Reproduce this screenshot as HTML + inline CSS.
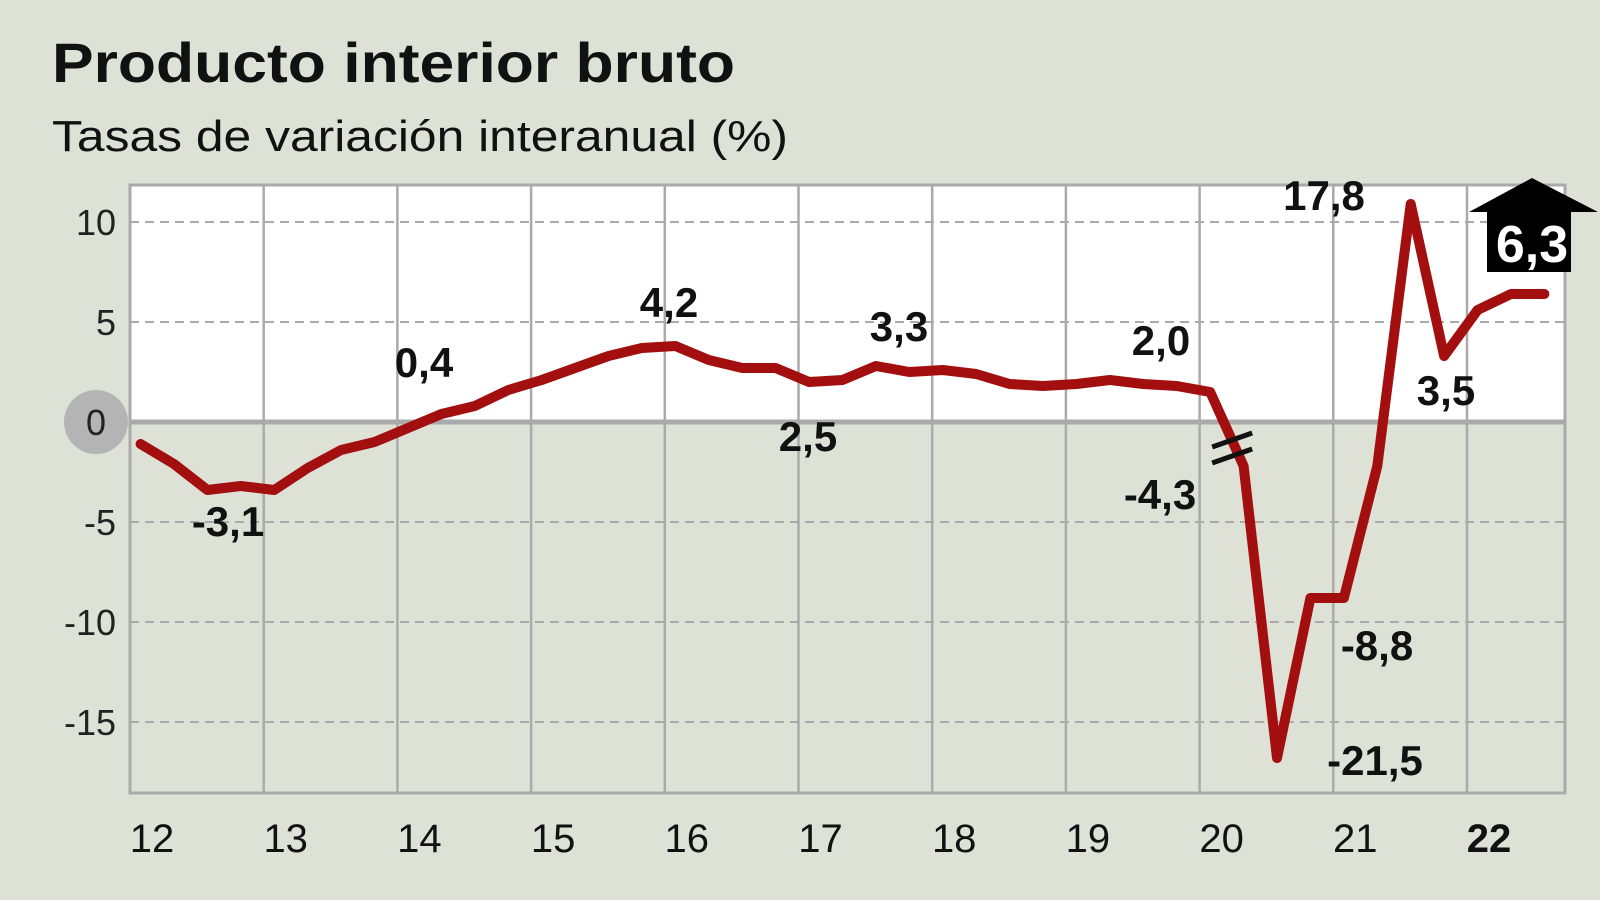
<!DOCTYPE html>
<html><head><meta charset="utf-8"><style>
html,body{margin:0;padding:0;background:#dde1d6;}
svg{display:block;font-family:"Liberation Sans",sans-serif;}
</style></head><body>
<svg id="chart" width="1600" height="900">
<rect width="1600" height="900" fill="#dde1d6"/>
<text x="52" y="82" font-size="56" font-weight="bold" fill="#111" textLength="683" lengthAdjust="spacingAndGlyphs">Producto interior bruto</text>
<text x="52" y="151" font-size="44" fill="#111" textLength="736" lengthAdjust="spacingAndGlyphs">Tasas de variación interanual (%)</text>
<g id="grid"></g>
<g id="marks"></g>
</svg>
<script>
const years = ["12","13","14","15","16","17","18","19","20","21","22"];
const yTicks = [10,5,0,-5,-10,-15];
const values = [-1.1,-2.1,-3.4,-3.2,-3.4,-2.3,-1.4,-1.0,-0.3,0.4,0.8,1.6,2.1,2.7,3.3,3.7,3.8,3.1,2.7,2.7,2.0,2.1,2.8,2.5,2.6,2.4,1.9,1.8,1.9,2.1,1.9,1.8,1.5,-2.2,-16.8,-8.8,-8.8,-2.2,10.9,3.3,5.6,6.4,6.4];
const labels = ["-3,1","0,4","4,2","2,5","3,3","2,0","-4,3","-21,5","-8,8","17,8","3,5"];
const labelPos = [[228,536],[424,377],[669,317],[808,451],[899,341],[1161,355],[1160,509],[1375,775],[1377,660],[1324,210],[1446,405]];

const NS="http://www.w3.org/2000/svg";
const L=130,R=1565,T=185,B=793;
const yearW=133.7, qW=yearW/4;
const x=i=>L+44+qW*(i-1);
const y=v=>422-20*v;
const xYear=k=>L+yearW*k;
function mk(tag,attrs,parent){const e=document.createElementNS(NS,tag);for(const k in attrs)e.setAttribute(k,attrs[k]);parent.appendChild(e);return e;}
const grid=document.getElementById('grid'), marks=document.getElementById('marks');

let r=mk('rect',{x:L,y:T,width:R-L,height:y(0)-T,fill:'#fff'},grid);


r=mk('rect',{x:L,y:T,width:R-L,height:B-T,fill:'none',stroke:'#aaa','stroke-width':3},grid);


years.forEach((yr,k)=>{
  if(k>0){const ln=mk('line',{x1:xYear(k),x2:xYear(k),y1:T,y2:B,stroke:'#aaa','stroke-width':2.5},grid);
  
  }
  const t=mk('text',{x:xYear(k)+22,y:852,'font-size':40,'text-anchor':'middle',fill:'#111','font-weight':yr==='22'?'bold':'normal'},grid);
  t.textContent=yr;
  
  
});
let zc=mk('circle',{cx:96,cy:y(0),r:32,fill:'#b4b4b4'},grid);


yTicks.forEach(v=>{
  if(v!==0){const ln=mk('line',{x1:L,x2:R,y1:y(v),y2:y(v),stroke:'#aaa','stroke-width':2,'stroke-dasharray':'9 6'},grid);
  
  }
  const t=mk('text',{x:v===0?96:116,y:y(v)+13,'font-size':36,'text-anchor':v===0?'middle':'end',fill:'#222'},grid);
  t.textContent=String(v);
  
  
});
let zl=mk('line',{x1:L,x2:R,y1:y(0),y2:y(0),stroke:'#aaa','stroke-width':5},grid);



const defs=mk('defs',{},marks);
const cp=mk('clipPath',{id:'clip'},defs);
mk('rect',{x:L,y:0,width:R-L,height:900},cp);
const pts=values.map((v,i)=>x(i).toFixed(1)+','+y(v).toFixed(1)).join(' ');
const pl=mk('polyline',{points:pts,fill:'none',stroke:'#a30f0f','stroke-width':10,'stroke-linejoin':'round','stroke-linecap':'round','clip-path':'url(#clip)'},marks);


// break marker
const bx=x(32)+22, by=y(-1.3);
[-8,8].forEach(d=>{const b=mk('line',{x1:bx-20,y1:by+d+7,x2:bx+20,y2:by+d-7,stroke:'#111','stroke-width':5},marks);

});
labels.forEach((s,j)=>{
  const t=mk('text',{x:labelPos[j][0],y:labelPos[j][1],'font-size':42,'font-weight':'bold','text-anchor':'middle',fill:'#111'},marks);
  t.textContent=s;
  
  
});
const ar=mk('polygon',{points:'1469,212 1532,178 1598,212 1571,212 1571,272 1487,272 1487,212',fill:'#000'},marks);


const lt=mk('text',{x:1532,y:262,'font-size':52,'font-weight':'bold','text-anchor':'middle',fill:'#fff'},marks);
lt.textContent='6,3';


</script>
</body></html>
